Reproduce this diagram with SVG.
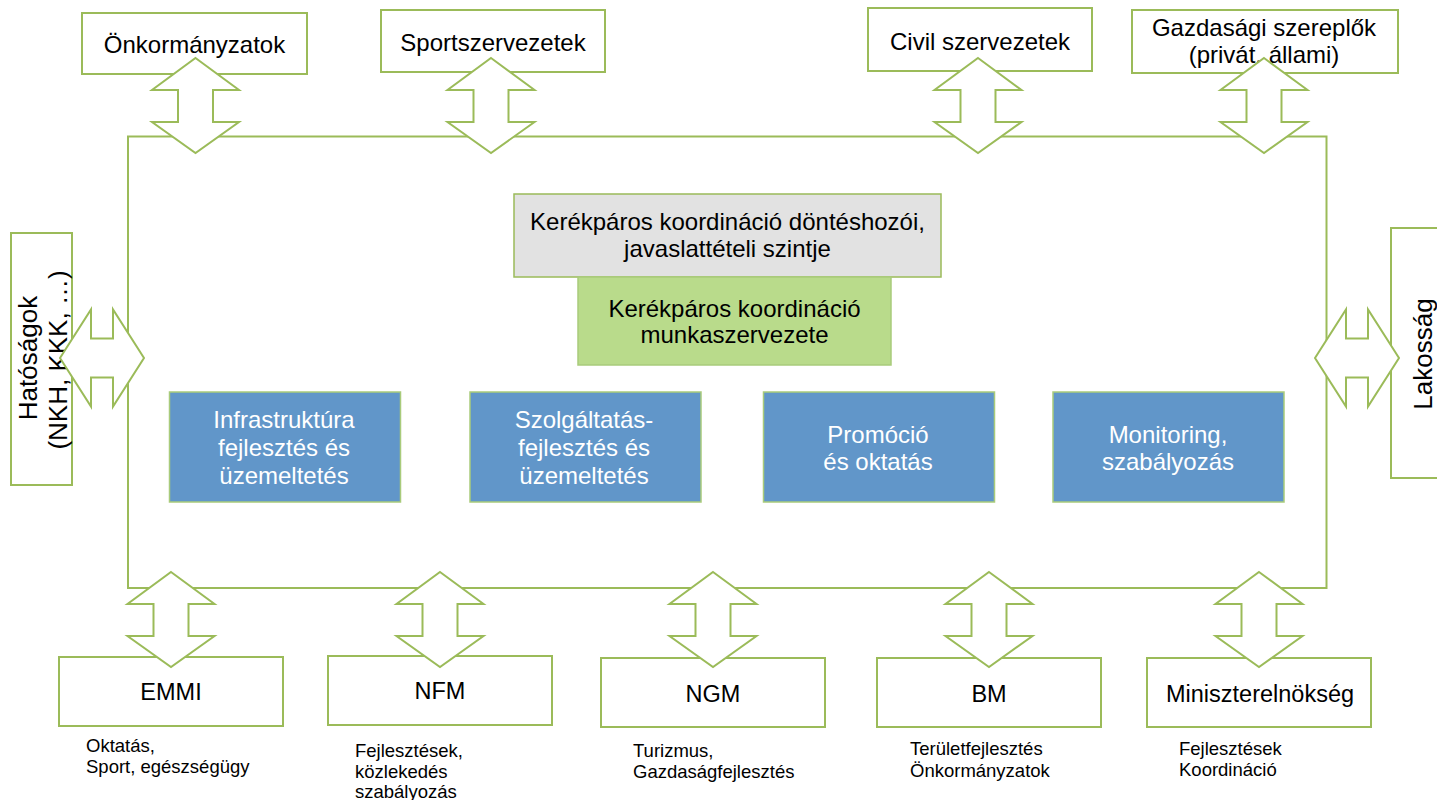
<svg xmlns="http://www.w3.org/2000/svg" xmlns:xlink="http://www.w3.org/1999/xlink" width="1437" height="800" viewBox="0 0 1437 800">
<style>
  text { font-family: "Liberation Sans", Arial, sans-serif; fill: #000; }
  .box { fill: #fff; stroke: #9BBB59; stroke-width: 2; }
  .frame { fill: none; stroke: #9BBB59; stroke-width: 2; }
  .gray { fill: #E2E2E2; stroke: #9BBB59; stroke-width: 1.5; }
  .green { fill: #B9DB8B; stroke: #A9CB7B; stroke-width: 1.5; }
  .blue { fill: #6196C9; stroke: #A9CB7B; stroke-width: 1.5; }
  .arr { fill: #fff; stroke: #9BBB59; stroke-width: 2; stroke-linejoin: miter; }
  .t24 { font-size: 24px; text-anchor: middle; }
  .t23 { font-size: 23.5px; text-anchor: middle; }
  .t26 { font-size: 26px; text-anchor: middle; }
  .w24 { font-size: 24px; text-anchor: middle; fill: #fff; }
  .cap { font-size: 18.5px; }
</style>
<defs>
  <path id="varrow" d="M0,0 L43.5,32 L17.5,32 L17.5,64 L43.5,64 L0,95 L-43.5,64 L-17.5,64 L-17.5,32 L-43.5,32 Z"/>
  <path id="harrow" d="M0,0 L31,-48.5 L31,-19.5 L53,-19.5 L53,-48.5 L84,0 L53,48.5 L53,19.5 L31,19.5 L31,48.5 Z"/>
</defs>

<rect id="frame" class="frame" x="128" y="136.5" width="1198.5" height="451.5"/>

<g id="onkormanyzatok">
  <rect class="box" x="82" y="13" width="225" height="61"/>
  <text class="t24" x="194.5" y="53">Önkormányzatok</text>
</g>
<g id="sportszervezetek">
  <rect class="box" x="381" y="10" width="224" height="62"/>
  <text class="t24" x="493" y="51">Sportszervezetek</text>
</g>
<g id="civil">
  <rect class="box" x="868" y="8" width="224" height="63"/>
  <text class="t24" x="980" y="50">Civil szervezetek</text>
</g>
<g id="gazdasagi">
  <rect class="box" x="1132" y="10" width="266" height="63"/>
  <text class="t24" x="1264" y="36">Gazdasági szereplők</text>
  <text class="t24" x="1264" y="63">(privát, állami)</text>
</g>

<g id="hatosagok">
  <rect class="box" x="11" y="233" width="61" height="252"/>
  <text class="t26" transform="translate(37,358) rotate(-90)">Hatóságok</text>
  <text class="t26" transform="translate(67,360) rotate(-90)">(NKH, KKK, …)</text>
</g>
<g id="lakossag">
  <rect class="box" x="1391" y="228" width="60" height="250"/>
  <text class="t26" transform="translate(1432,354) rotate(-90)">Lakosság</text>
</g>

<g id="donteshozoi">
  <rect class="gray" x="514" y="194" width="427" height="83"/>
  <text class="t24" x="727.5" y="230">Kerékpáros koordináció döntéshozói,</text>
  <text class="t24" x="727.5" y="257">javaslattételi szintje</text>
</g>
<g id="munkaszervezet">
  <rect class="green" x="578" y="277" width="313" height="88"/>
  <text class="t24" x="734.5" y="317">Kerékpáros koordináció</text>
  <text class="t24" x="734.5" y="343">munkaszervezete</text>
</g>

<g id="infrastruktura">
  <rect class="blue" x="169.5" y="392" width="231" height="110"/>
  <text class="w24" x="284" y="428">Infrastruktúra</text>
  <text class="w24" x="284" y="456">fejlesztés és</text>
  <text class="w24" x="284" y="484">üzemeltetés</text>
</g>
<g id="szolgaltatas">
  <rect class="blue" x="470" y="392" width="231" height="110"/>
  <text class="w24" x="584" y="428">Szolgáltatás-</text>
  <text class="w24" x="584" y="456">fejlesztés és</text>
  <text class="w24" x="584" y="484">üzemeltetés</text>
</g>
<g id="promocio">
  <rect class="blue" x="763.5" y="392" width="231" height="110"/>
  <text class="w24" x="878" y="443">Promóció</text>
  <text class="w24" x="878" y="470">és oktatás</text>
</g>
<g id="monitoring">
  <rect class="blue" x="1053" y="392" width="231" height="110"/>
  <text class="w24" x="1168" y="443">Monitoring,</text>
  <text class="w24" x="1168" y="470">szabályozás</text>
</g>

<g id="emmi">
  <rect class="box" x="59" y="657" width="224" height="69"/>
  <text class="t23" x="171" y="700">EMMI</text>
  <text class="cap" x="86" y="752">Oktatás,</text>
  <text class="cap" x="86" y="773">Sport, egészségügy</text>
</g>
<g id="nfm">
  <rect class="box" x="328" y="656" width="224" height="69"/>
  <text class="t23" x="440" y="699">NFM</text>
  <text class="cap" x="355" y="757">Fejlesztések,</text>
  <text class="cap" x="355" y="778">közlekedés</text>
  <text class="cap" x="355" y="798">szabályozás</text>
</g>
<g id="ngm">
  <rect class="box" x="601" y="658" width="224" height="69"/>
  <text class="t23" x="713" y="702">NGM</text>
  <text class="cap" x="633" y="757">Turizmus,</text>
  <text class="cap" x="633" y="778">Gazdaságfejlesztés</text>
</g>
<g id="bm">
  <rect class="box" x="877" y="658" width="224" height="69"/>
  <text class="t23" x="989" y="702">BM</text>
  <text class="cap" x="910" y="755">Területfejlesztés</text>
  <text class="cap" x="910" y="777">Önkormányzatok</text>
</g>
<g id="miniszterelnokseg">
  <rect class="box" x="1147" y="658" width="224" height="69"/>
  <text class="t23" x="1260" y="702">Miniszterelnökség</text>
  <text class="cap" x="1179" y="755">Fejlesztések</text>
  <text class="cap" x="1179" y="776">Koordináció</text>
</g>

<g id="connectors">
  <use class="arr" xlink:href="#varrow" href="#varrow" x="195.5" y="58"/>
  <use class="arr" xlink:href="#varrow" href="#varrow" x="491" y="58"/>
  <use class="arr" xlink:href="#varrow" href="#varrow" x="978" y="58"/>
  <use class="arr" xlink:href="#varrow" href="#varrow" x="1264" y="58"/>
  <use class="arr" xlink:href="#harrow" href="#harrow" x="60" y="358"/>
  <use class="arr" xlink:href="#harrow" href="#harrow" x="1315" y="358"/>
  <use class="arr" xlink:href="#varrow" href="#varrow" x="171" y="572"/>
  <use class="arr" xlink:href="#varrow" href="#varrow" x="440" y="572"/>
  <use class="arr" xlink:href="#varrow" href="#varrow" x="713" y="572"/>
  <use class="arr" xlink:href="#varrow" href="#varrow" x="989" y="572"/>
  <use class="arr" xlink:href="#varrow" href="#varrow" x="1259" y="572"/>
</g>
</svg>
